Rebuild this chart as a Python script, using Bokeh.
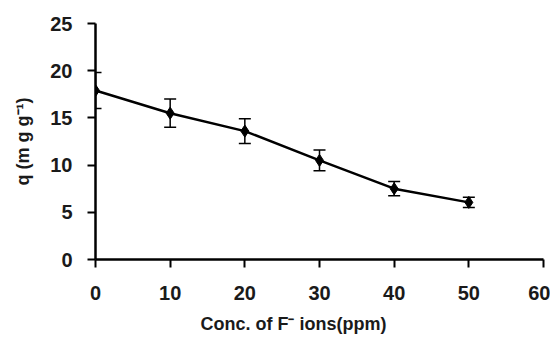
from bokeh.plotting import figure
from bokeh.models import Range1d, Whisker, ColumnDataSource, Title, FixedTicker, TeeHead
from bokeh.embed import file_html
from bokeh.resources import INLINE

conc = [0, 10, 20, 30, 40, 50]
q = [17.9, 15.5, 13.6, 10.5, 7.5, 6.05]
err = [1.9, 1.5, 1.3, 1.1, 0.75, 0.55]

x_ticks = [0, 10, 20, 30, 40, 50, 60]
y_ticks = [0, 5, 10, 15, 20, 25]

src = ColumnDataSource(dict(
    x=conc, y=q,
    upper=[a + b for a, b in zip(q, err)],
    lower=[a - b for a, b in zip(q, err)],
))

p = figure(width=550, height=343, output_backend="svg", toolbar_location=None,
           x_range=Range1d(0, 60), y_range=Range1d(0, 25),
           min_border_left=95, min_border_right=7, min_border_top=23, min_border_bottom=84)
p.outline_line_color = None
p.xgrid.visible = False
p.ygrid.visible = False

FONT = "Liberation Sans"
for ax in (p.xaxis[0], p.yaxis[0]):
    ax.axis_line_width = 2.5
    ax.axis_line_color = "black"
    ax.major_tick_line_width = 2
    ax.major_tick_line_color = "black"
    ax.major_tick_out = 8
    ax.major_tick_in = 0
    ax.minor_tick_line_color = None
    ax.major_label_text_font = FONT
    ax.major_label_text_font_style = "bold"
    ax.major_label_text_font_size = "20px"
    ax.major_label_text_color = "#1a1a1a"

p.xaxis[0].major_label_standoff = 18
p.yaxis[0].major_label_standoff = 15

p.xaxis[0].ticker = FixedTicker(ticks=x_ticks)
p.yaxis[0].ticker = FixedTicker(ticks=y_ticks)

p.yaxis[0].axis_label = "q (m g g\u207b\u00b9)"
p.yaxis[0].axis_label_text_font = FONT
p.yaxis[0].axis_label_text_font_style = "bold"
p.yaxis[0].axis_label_text_font_size = "18px"
p.yaxis[0].axis_label_text_color = "#1a1a1a"
p.yaxis[0].axis_label_standoff = 14

p.add_layout(Title(text="Conc. of F\u207b ions(ppm)", align="left", offset=105,
                   text_font=FONT, text_font_style="bold", text_font_size="18px",
                   text_color="#1a1a1a", standoff=19), "below")

p.add_layout(Whisker(base="x", upper="upper", lower="lower", source=src,
                     line_width=1.5, line_color="black",
                     upper_head=TeeHead(size=12, line_width=1.5, line_color="black"),
                     lower_head=TeeHead(size=12, line_width=1.5, line_color="black")))

p.line("x", "y", source=src, line_width=2.5, line_color="black")
p.scatter("x", "y", source=src, marker="diamond", size=12, fill_color="black", line_color="black")

open("out.html", "w").write(file_html(p, INLINE))
